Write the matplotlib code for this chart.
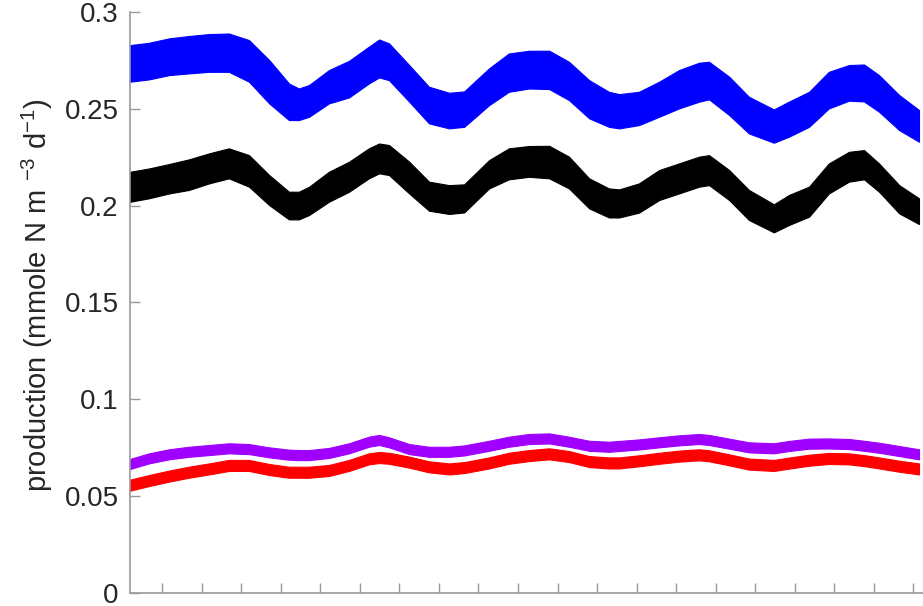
import numpy as np
import matplotlib
matplotlib.use('Agg')
import matplotlib.pyplot as plt

plt.rcParams['font.family'] = ['Liberation Sans', 'DejaVu Sans']
plt.rcParams['mathtext.fontset'] = 'custom'
plt.rcParams['mathtext.rm'] = 'Liberation Sans'
plt.rcParams['mathtext.it'] = 'Liberation Sans'

# time axis (tick units)
t = [0.19, 0.67, 1.18, 1.68, 2.19, 2.69, 3.20, 3.71, 4.21, 4.46, 4.72,
     5.22, 5.73, 6.23, 6.49, 6.74, 7.25, 7.75, 8.26, 8.64, 9.27, 9.77,
     10.28, 10.79, 11.29, 11.80, 12.30, 12.56, 13.06, 13.57, 14.07, 14.58, 14.83,
     15.34, 15.84, 16.47, 16.85, 17.36, 17.86, 18.37, 18.75, 19.13, 19.64, 20.14]

blue_hi = [0.2829, 0.2841, 0.2864, 0.2876, 0.2886, 0.2889, 0.2855, 0.2752, 0.2631, 0.2605, 0.2623,
           0.2700, 0.2748, 0.2821, 0.2858, 0.2838, 0.2726, 0.2614, 0.2583, 0.2590, 0.2709, 0.2786,
           0.2800, 0.2800, 0.2743, 0.2648, 0.2588, 0.2576, 0.2588, 0.2640, 0.2700, 0.2738, 0.2743,
           0.2666, 0.2562, 0.2497, 0.2537, 0.2588, 0.2691, 0.2726, 0.2729, 0.2674, 0.2571, 0.2494]
blue_lo = [0.2640, 0.2652, 0.2674, 0.2683, 0.2691, 0.2691, 0.2640, 0.2528, 0.2442, 0.2442, 0.2459,
           0.2528, 0.2559, 0.2631, 0.2662, 0.2648, 0.2537, 0.2425, 0.2399, 0.2407, 0.2519, 0.2588,
           0.2605, 0.2602, 0.2545, 0.2451, 0.2407, 0.2399, 0.2416, 0.2459, 0.2502, 0.2537, 0.2549,
           0.2468, 0.2373, 0.2325, 0.2356, 0.2407, 0.2502, 0.2542, 0.2538, 0.2485, 0.2390, 0.2330]

black_hi = [0.2175, 0.2192, 0.2215, 0.2239, 0.2270, 0.2296, 0.2261, 0.2158, 0.2072, 0.2072, 0.2098,
            0.2175, 0.2227, 0.2296, 0.2321, 0.2313, 0.2227, 0.2124, 0.2106, 0.2110, 0.2235, 0.2296,
            0.2308, 0.2309, 0.2253, 0.2141, 0.2089, 0.2084, 0.2115, 0.2184, 0.2218, 0.2253, 0.2261,
            0.2184, 0.2081, 0.2007, 0.2055, 0.2098, 0.2218, 0.2278, 0.2287, 0.2218, 0.2106, 0.2038]
black_lo = [0.2020, 0.2038, 0.2063, 0.2081, 0.2115, 0.2141, 0.2098, 0.2003, 0.1929, 0.1929, 0.1952,
            0.2020, 0.2072, 0.2141, 0.2167, 0.2158, 0.2063, 0.1974, 0.1957, 0.1965, 0.2089, 0.2136,
            0.2149, 0.2141, 0.2089, 0.1986, 0.1939, 0.1939, 0.1964, 0.2029, 0.2063, 0.2098, 0.2106,
            0.2029, 0.1926, 0.1862, 0.1900, 0.1943, 0.2063, 0.2124, 0.2136, 0.2072, 0.1960, 0.1905]

purple_hi = [0.0692, 0.0721, 0.0742, 0.0755, 0.0764, 0.0773, 0.0769, 0.0752, 0.0740, 0.0738, 0.0738,
             0.0749, 0.0773, 0.0807, 0.0816, 0.0804, 0.0769, 0.0755, 0.0755, 0.0762, 0.0786, 0.0807,
             0.0821, 0.0824, 0.0807, 0.0786, 0.0781, 0.0785, 0.0793, 0.0804, 0.0814, 0.0821, 0.0816,
             0.0797, 0.0778, 0.0773, 0.0785, 0.0797, 0.0798, 0.0795, 0.0786, 0.0776, 0.0759, 0.0742]
purple_lo = [0.0640, 0.0669, 0.0690, 0.0703, 0.0712, 0.0721, 0.0717, 0.0700, 0.0688, 0.0686, 0.0686,
             0.0697, 0.0721, 0.0755, 0.0764, 0.0752, 0.0717, 0.0703, 0.0703, 0.0710, 0.0734, 0.0755,
             0.0769, 0.0772, 0.0755, 0.0734, 0.0729, 0.0733, 0.0741, 0.0752, 0.0762, 0.0769, 0.0764,
             0.0745, 0.0726, 0.0721, 0.0733, 0.0745, 0.0746, 0.0743, 0.0734, 0.0724, 0.0707, 0.0690]

red_hi = [0.0585, 0.0609, 0.0632, 0.0652, 0.0669, 0.0687, 0.0687, 0.0666, 0.0652, 0.0652, 0.0652,
          0.0661, 0.0687, 0.0721, 0.0728, 0.0724, 0.0704, 0.0680, 0.0669, 0.0676, 0.0700, 0.0724,
          0.0738, 0.0747, 0.0733, 0.0707, 0.0700, 0.0700, 0.0711, 0.0724, 0.0735, 0.0742, 0.0737,
          0.0716, 0.0694, 0.0687, 0.0699, 0.0714, 0.0723, 0.0721, 0.0712, 0.0700, 0.0683, 0.0669]
red_lo = [0.0528, 0.0552, 0.0575, 0.0595, 0.0612, 0.0630, 0.0630, 0.0609, 0.0595, 0.0595, 0.0595,
          0.0604, 0.0630, 0.0664, 0.0671, 0.0667, 0.0647, 0.0623, 0.0612, 0.0619, 0.0643, 0.0667,
          0.0681, 0.0690, 0.0676, 0.0650, 0.0643, 0.0643, 0.0654, 0.0667, 0.0678, 0.0685, 0.0680,
          0.0659, 0.0637, 0.0630, 0.0642, 0.0657, 0.0666, 0.0664, 0.0655, 0.0643, 0.0626, 0.0612]

yticks = [0, 0.05, 0.1, 0.15, 0.2, 0.25, 0.3]
ytick_labels = ['0', '0.05', '0.1', '0.15', '0.2', '0.25', '0.3']
xticks = np.arange(1, 21)

fig = plt.figure(figsize=(9.23, 6.06), dpi=100)
ax = fig.add_axes([0.1408, 0.0215, 0.866, 0.9587])

# bands
ax.fill_between(t, blue_lo, blue_hi, color='#0000ff', lw=0.8, edgecolor='#0000ff', joinstyle='round')
ax.fill_between(t, black_lo, black_hi, color='#000000', lw=0.8, edgecolor='#000000', joinstyle='round')
ax.fill_between(t, purple_lo, purple_hi, color='#a000ff', lw=0.8, edgecolor='#a000ff', joinstyle='round')
ax.fill_between(t, red_lo, red_hi, color='#ff0000', lw=0.8, edgecolor='#ff0000', joinstyle='round')

ax.set_xlim(0.19, 20.4)
ax.set_ylim(0, 0.3)
ax.set_yticks(yticks)
ax.set_yticklabels(ytick_labels, fontsize=20, color='#262626')
ax.set_xticks(xticks)
ax.set_xticklabels([])
ax.tick_params(direction='in', length=7, width=1, color='#9a9a9a')
ax.tick_params(axis='y', pad=8)

for s in ['top', 'right']:
    ax.spines[s].set_visible(False)
for s in ['left', 'bottom']:
    ax.spines[s].set_color('#9a9a9a')
    ax.spines[s].set_linewidth(1.2)

fig.text(37 / 923, 1 - 295 / 606,
         r'production (mmole N m $^{-3}$ d$^{-1}$)',
         rotation=90, ha='center', va='center', fontsize=21, color='#262626')

fig.savefig('out.png', dpi=100)
